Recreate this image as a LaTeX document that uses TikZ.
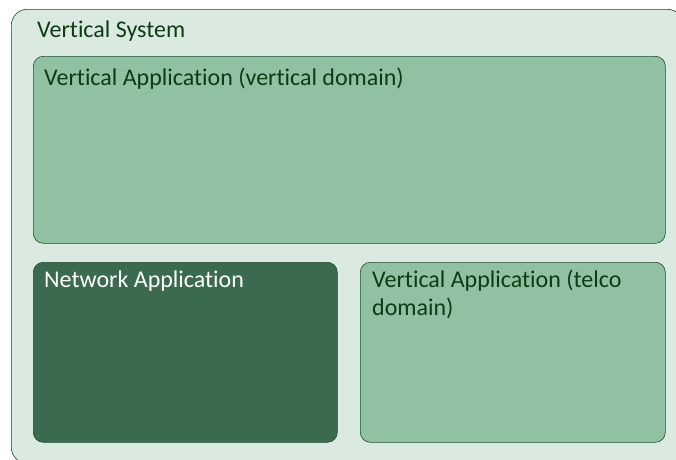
\documentclass[tikz,border=0pt]{standalone}
\usepackage{fontspec}
\setmainfont{Carlito}[Ligatures=NoCommon]
\usetikzlibrary{positioning}

\definecolor{sysfill}{HTML}{DAEAE0}
\definecolor{appfill}{HTML}{8FC1A2}
\definecolor{netfill}{HTML}{3B6B4E}
\definecolor{edgegreen}{HTML}{1E4A2A}
\definecolor{txtgreen}{HTML}{0E3B14}

\tikzset{
  box/.style={draw=edgegreen, semithick, rectangle, rounded corners=10pt, inner sep=0pt, anchor=north west},
  lbl/.style={anchor=base west, inner sep=0pt, align=left, text=txtgreen, font=\fontsize{24}{28.5}\selectfont},
}

\begin{document}
\begin{tikzpicture}[x=1pt,y=-1pt]
  \useasboundingbox (0,0) rectangle (676,459);
  \clip (0,0) rectangle (676,459);

  % boxes
  \node[box, rounded corners=16pt, fill=sysfill, minimum width=672pt, minimum height=454pt] (system) at (11,9) {};
  \node[box, fill=appfill, minimum width=632pt, minimum height=187pt] (vertapp) at (33,56) {};
  \node[box, fill=netfill, minimum width=304pt, minimum height=180pt] (netapp) at (33,262) {};
  \node[box, fill=appfill, minimum width=305pt, minimum height=180pt] (telcoapp) at (360,262) {};

  % labels
  \node[lbl] (systemtext) at ([xshift=26pt, yshift=-28pt]system.north west) {Vertical System};
  \node[lbl] (vertapptext) at ([xshift=11pt, yshift=-29pt]vertapp.north west) {Vertical Application (vertical domain)};
  \node[lbl, text=white] (netapptext) at ([xshift=11pt, yshift=-25pt]netapp.north west) {Network Application};
  \node[lbl] (telcoapptext) at ([xshift=12pt, yshift=-53.5pt]telcoapp.north west) {Vertical Application (telco\\domain)};
\end{tikzpicture}
\end{document}
